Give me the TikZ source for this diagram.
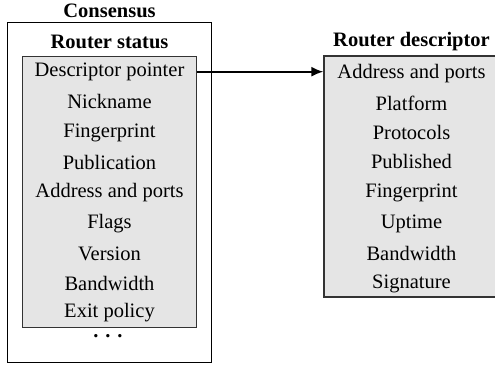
\documentclass[tikz,border=0pt]{standalone}
\usepackage{fontspec}
\setmainfont{Liberation Serif}
\usetikzlibrary{arrows.meta}
\begin{document}
\begin{tikzpicture}[x=1pt,y=-1pt,
  item/.style={anchor=base,inner sep=0pt,font=\fontsize{20.5}{24}\selectfont},
  head/.style={anchor=base,inner sep=0pt,font=\fontsize{20.5}{24}\selectfont\bfseries},
  outerbox/.style={draw=black,line width=0.9pt},
  graybox/.style={draw=black!80,fill=black!10,line width=1.3pt}]
\useasboundingbox (0,0) rectangle (495,364);
% boxes
\node[outerbox,minimum width=204.4pt,minimum height=339.6pt,inner sep=0pt] (cons) at (109.5,192.5) {};
\node[graybox,minimum width=174.4pt,minimum height=270.6pt,inner sep=0pt] (rs) at (109.5,192) {};
\node[graybox,minimum width=175pt,minimum height=241pt,inner sep=0pt] (rd) at (411.5,176.5) {};
% headers
\node[head] (hcons) at (109.5,17) {Consensus};
\node[head] (hrs) at (109.5,48) {Router status};
\node[head] (hrd) at (411.5,46.7) {Router descriptor};
% left items
\node[item] (l1) at (109.5,76) {Descriptor pointer};
\node[item] (l2) at (109.5,108) {Nickname};
\node[item] (l3) at (109.5,137) {Fingerprint};
\node[item] (l4) at (109.5,169) {Publication};
\node[item] (l5) at (109.5,197) {Address and ports};
\node[item] (l6) at (109.5,228) {Flags};
\node[item] (l7) at (109.5,260) {Version};
\node[item] (l8) at (109.5,290) {Bandwidth};
\node[item] (l9) at (109.5,317) {Exit policy};
\node[head] (dots) at (108,337) {. . .};
% right items
\node[item] (r1) at (411.5,78) {Address and ports};
\node[item] (r2) at (411.5,110) {Platform};
\node[item] (r3) at (411.5,139) {Protocols};
\node[item] (r4) at (411.5,168) {Published};
\node[item] (r5) at (411.5,197) {Fingerprint};
\node[item] (r6) at (411.5,228) {Uptime};
\node[item] (r7) at (411.5,260) {Bandwidth};
\node[item] (r8) at (411.5,288) {Signature};
% arrow
\coordinate (a0) at (rs.east |- 0,71.7);
\coordinate (a1) at (rd.west |- 0,71.7);
\draw[line width=1.8pt,-{Latex[length=12pt,width=10pt]}] (a0) -- (a1);
\end{tikzpicture}
\end{document}
